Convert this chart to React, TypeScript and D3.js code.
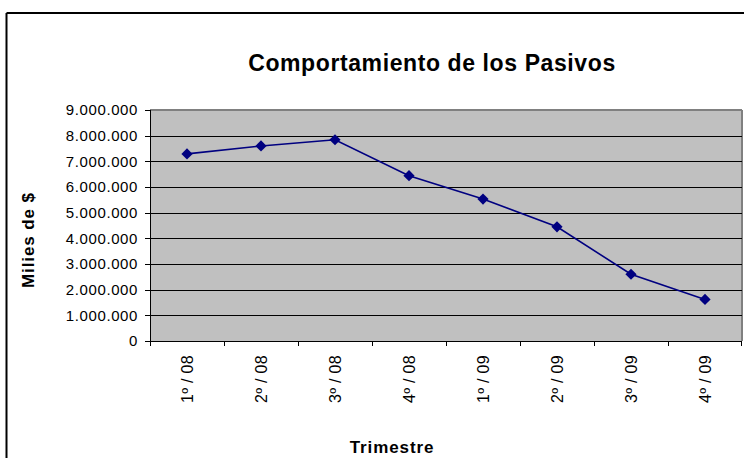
import * as d3 from 'd3';

const quarters = ['1º / 08', '2º / 08', '3º / 08', '4º / 08', '1º / 09', '2º / 09', '3º / 09', '4º / 09'];
const pasivos = [7290000, 7600000, 7840000, 6440000, 5530000, 4450000, 2600000, 1620000];
const yTicks = [0, 1000000, 2000000, 3000000, 4000000, 5000000, 6000000, 7000000, 8000000, 9000000];

const W = 744;
const H = 458;
const plot = { left: 150, right: 742, top: 110, bottom: 341 };

const fmt = (v: number) => d3.format(',')(v).replace(/,/g, '.');

export default function App() {
  const x = d3.scaleBand<string>().domain(quarters).range([plot.left, plot.right]).padding(0);
  const y = d3.scaleLinear().domain([0, 9000000]).range([plot.bottom, plot.top]);
  const cx = (q: string) => (x(q) ?? 0) + x.bandwidth() / 2;

  const line = d3.line<number>()
    .x((_, i) => cx(quarters[i]))
    .y((d) => y(d));

  const diamond = d3.symbol().type(d3.symbolDiamond2).size(80)();
  const font = 'Arial, "Liberation Sans", sans-serif';

  return (
    <svg width={W} height={H} style={{ position: 'absolute', left: 0, top: 0, background: '#fff' }}>
      <rect x={0} y={0} width={W} height={H} fill="#fff" />
      {/* chart frame */}
      <line x1={6.5} y1={13} x2={6.5} y2={H} stroke="#000" strokeWidth={2} />
      <line x1={6.5} y1={13} x2={W} y2={13} stroke="#000" strokeWidth={2} />

      <text x={432} y={71} textAnchor="middle" fontFamily={font} fontWeight="bold" fontSize={23} letterSpacing={0.6}>
        Comportamiento de los Pasivos
      </text>

      {/* plot area */}
      <rect x={plot.left} y={plot.top} width={plot.right - plot.left} height={plot.bottom - plot.top} fill="#c0c0c0" />
      <line x1={plot.left} y1={plot.top} x2={plot.right} y2={plot.top} stroke="#808080" strokeWidth={2} />
      <line x1={plot.right} y1={plot.top} x2={plot.right} y2={plot.bottom} stroke="#808080" strokeWidth={2} />
      {yTicks.slice(1, -1).map((t) => (
        <line key={t} x1={plot.left} x2={plot.right} y1={Math.round(y(t)) + 0.5} y2={Math.round(y(t)) + 0.5} stroke="#000" strokeWidth={1} />
      ))}

      {/* y axis */}
      <line x1={plot.left + 0.5} y1={plot.top} x2={plot.left + 0.5} y2={plot.bottom} stroke="#000" />
      {yTicks.map((t) => (
        <g key={t}>
          <line x1={plot.left - 5} x2={plot.left} y1={Math.round(y(t)) + 0.5} y2={Math.round(y(t)) + 0.5} stroke="#000" />
          <text x={138} y={y(t)} dy="0.35em" textAnchor="end" fontFamily={font} fontSize={15} letterSpacing={0.6}>
            {fmt(t)}
          </text>
        </g>
      ))}
      <text
        transform={`translate(34,240) rotate(-90)`}
        textAnchor="middle"
        fontFamily={font}
        fontWeight="bold"
        fontSize={17}
        letterSpacing={0.9}
      >
        Milies de $
      </text>

      {/* x axis */}
      <line x1={plot.left} y1={plot.bottom + 0.5} x2={plot.right} y2={plot.bottom + 0.5} stroke="#000" />
      {quarters.map((q, i) => (
        <g key={q}>
          <line x1={Math.round(x(q) ?? 0) + 0.5} x2={Math.round(x(q) ?? 0) + 0.5} y1={plot.bottom} y2={plot.bottom + 5} stroke="#000" />
          {i === quarters.length - 1 && (
            <line x1={plot.right - 0.5} x2={plot.right - 0.5} y1={plot.bottom} y2={plot.bottom + 5} stroke="#000" />
          )}
          <text
            transform={`translate(${cx(q) + 6},355) rotate(-90)`}
            textAnchor="end"
            fontFamily={font}
            fontSize={16}
            letterSpacing={0.3}
          >
            {q}
          </text>
        </g>
      ))}
      <text x={392} y={453} textAnchor="middle" fontFamily={font} fontWeight="bold" fontSize={17} letterSpacing={0.9}>
        Trimestre
      </text>

      {/* series */}
      <path d={line(pasivos) ?? ''} fill="none" stroke="#000080" strokeWidth={1.6} />
      {pasivos.map((v, i) => (
        <path key={i} d={diamond ?? ''} transform={`translate(${cx(quarters[i])},${y(v)})`} fill="#000080" />
      ))}
    </svg>
  );
}
